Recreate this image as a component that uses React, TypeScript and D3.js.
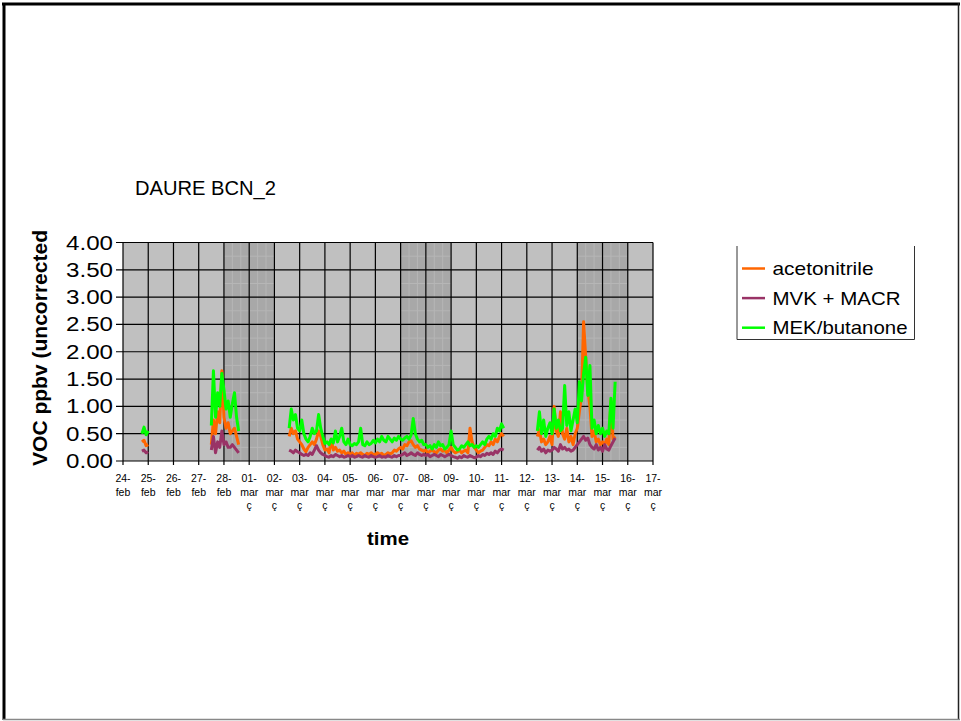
import React from "react";
import * as d3 from "d3";

// ---- data ----
const title = "DAURE BCN_2";
const seriesNames = ["acetonitrile", "MVK + MACR", "MEK/butanone"];
const seriesColors = ["#FF6600", "#993366", "#00FF00"];

// measurement blocks, each sampled every 2 hours from its start
const segmentStarts = ["2009-02-24T18:00Z", "2009-02-27T12:00Z", "2009-03-02T14:00Z", "2009-03-12T10:00Z"];
const stepHours = 2;

const acetonitrile = [
    [0.35, 0.38, 0.28, 0.3],
    [0.3, 0.75, 0.5, 0.9, 0.7, 1.65, 0.8, 0.6, 0.7, 0.5, 0.55, 0.6, 0.45, 0.3],
    [
        0.45, 0.6, 0.5, 0.55, 0.4,
        0.35, 0.3, 0.22, 0.17, 0.25, 0.3, 0.35, 0.3, 0.4, 0.55, 0.45, 0.3,
        0.2, 0.22, 0.15, 0.4, 0.2, 0.25, 0.18, 0.2, 0.15, 0.18, 0.12, 0.15,
        0.12, 0.15, 0.1, 0.14, 0.12, 0.15, 0.12, 0.1, 0.14, 0.12, 0.15, 0.12,
        0.12, 0.15, 0.12, 0.14, 0.1, 0.12, 0.15, 0.13, 0.15, 0.2, 0.18, 0.22,
        0.25, 0.22, 0.3, 0.28, 0.35, 0.37, 0.3, 0.25, 0.28, 0.22, 0.2, 0.18,
        0.2, 0.15, 0.18, 0.2, 0.17, 0.15, 0.2, 0.22, 0.18, 0.2, 0.15, 0.2,
        0.25, 0.18, 0.15, 0.17, 0.2, 0.15, 0.18, 0.2, 0.15, 0.6, 0.35, 0.25,
        0.2, 0.15, 0.18, 0.2, 0.25, 0.3, 0.28, 0.35, 0.3, 0.4, 0.35, 0.45,
        0.5, 0.45,
    ],
    [
        0.45, 0.57, 0.35, 0.4, 0.3, 0.35, 0.45, 0.3, 1.0, 0.55, 0.45, 0.9,
        0.5, 0.4, 0.6, 0.35, 0.45, 0.3, 0.5, 0.6, 0.9, 1.2, 2.55, 1.9,
        1.3, 1.0, 0.45, 0.55, 0.35, 0.4, 0.3, 0.35, 0.3, 0.4, 0.3, 1.1,
        0.4, 0.45,
    ],
];

const mvkMacr = [
    [0.18, 0.2, 0.15, 0.17],
    [0.2, 0.45, 0.15, 0.35, 0.25, 0.55, 0.3, 0.35, 0.25, 0.25, 0.3, 0.25, 0.2, 0.15],
    [
        0.2, 0.18, 0.15, 0.2, 0.17,
        0.15, 0.12, 0.1, 0.12, 0.1, 0.15, 0.12, 0.2, 0.28, 0.2, 0.15, 0.12,
        0.1, 0.08, 0.07, 0.1, 0.08, 0.12, 0.1, 0.08, 0.1, 0.07, 0.08, 0.1,
        0.08, 0.1, 0.07, 0.08, 0.1, 0.08, 0.07, 0.1, 0.08, 0.07, 0.1, 0.08,
        0.07, 0.08, 0.1, 0.07, 0.08, 0.07, 0.1, 0.08, 0.07, 0.1, 0.08, 0.1,
        0.1, 0.12, 0.15, 0.1, 0.12, 0.15, 0.12, 0.1, 0.15, 0.12, 0.1, 0.12,
        0.1, 0.12, 0.08, 0.1, 0.12, 0.1, 0.08, 0.12, 0.1, 0.08, 0.1, 0.12,
        0.1, 0.08, 0.07, 0.05, 0.08, 0.06, 0.1, 0.08, 0.07, 0.1, 0.08, 0.06,
        0.07, 0.1, 0.08, 0.12, 0.1, 0.14, 0.12, 0.15, 0.12, 0.18, 0.15, 0.2,
        0.22, 0.2,
    ],
    [
        0.2, 0.25, 0.18, 0.22, 0.15, 0.2, 0.18, 0.2, 0.25, 0.22, 0.18, 0.3,
        0.22, 0.25, 0.2, 0.22, 0.18, 0.2, 0.25, 0.3, 0.35, 0.4, 0.45, 0.38,
        0.42, 0.3, 0.25, 0.22, 0.3, 0.2, 0.25, 0.18, 0.3, 0.22, 0.2, 0.28,
        0.35, 0.42,
    ],
];

const mekButanone = [
    [0.5, 0.62, 0.48, 0.55],
    [0.65, 1.65, 0.8, 1.25, 1.0, 1.6, 1.3, 0.95, 1.1, 0.8, 1.05, 1.25, 0.8, 0.55],
    [
        0.6, 0.95, 0.75, 0.85, 0.6,
        0.55, 0.75, 0.5, 0.4, 0.35, 0.45, 0.6, 0.5, 0.55, 0.85, 0.6, 0.45,
        0.32, 0.35, 0.3, 0.4, 0.33, 0.55, 0.35, 0.45, 0.6, 0.35, 0.3, 0.4,
        0.3, 0.28, 0.32, 0.3, 0.35, 0.6, 0.3, 0.28, 0.35, 0.3, 0.32, 0.38,
        0.33, 0.4, 0.35, 0.45, 0.38, 0.35, 0.45, 0.4, 0.35, 0.42, 0.38, 0.45,
        0.4, 0.38, 0.42, 0.45, 0.4, 0.48, 0.78, 0.5, 0.4, 0.35, 0.38, 0.3,
        0.3, 0.25, 0.28, 0.22, 0.3, 0.25, 0.35, 0.28, 0.3, 0.22, 0.25, 0.3,
        0.55, 0.3, 0.25, 0.2, 0.22, 0.28, 0.25, 0.3, 0.35, 0.28, 0.3, 0.25,
        0.28, 0.25, 0.3, 0.35, 0.3, 0.4, 0.45, 0.4, 0.5, 0.45, 0.6, 0.55,
        0.68, 0.6,
    ],
    [
        0.55, 0.9, 0.5, 0.75, 0.45, 0.6, 0.7, 0.5, 0.95, 0.6, 0.75, 0.55,
        0.6, 1.38, 0.65, 0.9, 0.55, 0.75, 0.95, 0.7, 1.45, 1.1, 1.6, 1.9,
        1.2, 1.75, 0.6, 0.75, 0.5, 0.65, 0.5, 0.6, 0.45, 0.55, 0.5, 1.15,
        0.6, 1.45,
    ],
];

const allSeries = [acetonitrile, mvkMacr, mekButanone];

// darker bands (weekends)
const weekends = [
    ["2009-02-28", "2009-03-02"],
    ["2009-03-07", "2009-03-09"],
    ["2009-03-14", "2009-03-16"],
];
const xDomain = ["2009-02-24", "2009-03-17"];
const yTicks = [0, 0.5, 1, 1.5, 2, 2.5, 3, 3.5, 4];
const monthNames = ["jan", "feb", "mar"];
const yTitle = "VOC ppbv (uncorrected";
const xTitle = "time";

const FONT = "Arial, 'Liberation Sans', sans-serif";

const App = () => {
    const left = 123, right = 653, top = 242.5, bottom = 461;

    const x = d3.scaleUtc()
        .domain(xDomain.map((d) => new Date(d + "T00:00Z")))
        .range([left, right]);
    const y = d3.scaleLinear().domain([0, 4]).range([bottom, top]);

    const days = d3.utcDay.range(x.domain()[0], d3.utcDay.offset(x.domain()[1], 1));
    const dayFmt = d3.utcFormat("%d-");
    const fmt = d3.format(".2f");

    const line = d3.line<[Date, number]>()
        .x((d) => x(d[0]))
        .y((d) => y(d[1]));

    const toPoints = (vals: number[], seg: number): [Date, number][] => {
        const t0 = new Date(segmentStarts[seg]);
        return vals.map((v, i) => [d3.utcHour.offset(t0, i * stepHours), v]);
    };

    return (
        <svg width={961} height={721} style={{ position: "absolute", left: 0, top: 0, background: "#fff" }}>
            {/* outer frame */}
            <line x1={2} x2={960} y1={4} y2={4} stroke="#000" strokeWidth={3} />
            <line x1={4} x2={4} y1={3} y2={720} stroke="#000" strokeWidth={3} />
            <line x1={958.5} x2={958.5} y1={3} y2={720} stroke="#222" strokeWidth={1.5} />
            <line x1={3} x2={960} y1={719.5} y2={719.5} stroke="#888" strokeWidth={1.5} />

            <text x={135} y={195} fontFamily={FONT} fontSize={21} textLength={141} lengthAdjust="spacingAndGlyphs">{title}</text>

            {/* plot area */}
            <rect x={left} y={top} width={right - left} height={bottom - top} fill="#c0c0c0" />
            {weekends.map(([a, b], i) => {
                const s = new Date(a + "T00:00Z"), e = new Date(b + "T00:00Z");
                const subX = d3.utcHour.every(8)!.range(d3.utcHour.offset(s, 1), e);
                return (
                    <g key={i}>
                        <rect x={x(s)} y={top} width={x(e) - x(s)} height={bottom - top} fill="#a8a8a8" />
                        {subX.map((t, j) => (
                            <line key={j} x1={x(t)} x2={x(t)} y1={top} y2={bottom} stroke="#b6b6b6" strokeWidth={1} />
                        ))}
                        {d3.range(0.25, 4, 0.5).map((v, j) => (
                            <line key={"h" + j} x1={x(s)} x2={x(e)} y1={y(v)} y2={y(v)} stroke="#b6b6b6" strokeWidth={1} />
                        ))}
                    </g>
                );
            })}
            {/* grid */}
            {yTicks.map((v) => (
                <line key={v} x1={left - 7} x2={right} y1={y(v)} y2={y(v)} stroke="#000" strokeWidth={1.2} />
            ))}
            {days.map((d, i) => (
                <line key={i} x1={x(d)} x2={x(d)} y1={top} y2={bottom + 4} stroke="#000" strokeWidth={1.2} />
            ))}

            {/* series */}
            {allSeries.map((segs, si) => (
                <g key={si}>
                    {segs.map((vals, k) => (
                        <path key={k} d={line(toPoints(vals, k)) || ""} fill="none"
                            stroke={seriesColors[si]} strokeWidth={3} strokeLinejoin="round" />
                    ))}
                </g>
            ))}

            {/* y axis labels */}
            {yTicks.map((v) => (
                <text key={v} x={113} y={y(v) + 7} textAnchor="end" fontFamily={FONT} fontSize={19.5}
                    textLength={47} lengthAdjust="spacingAndGlyphs">{fmt(v)}</text>
            ))}
            <text transform={`translate(47, 348) rotate(-90)`} textAnchor="middle" fontFamily={FONT}
                fontSize={20} fontWeight="bold" textLength={236} lengthAdjust="spacingAndGlyphs">{yTitle}</text>

            {/* x axis labels */}
            {days.map((d, i) => (
                <g key={i} fontFamily={FONT} fontSize={10.5} textAnchor="middle">
                    <text x={x(d)} y={482}>{dayFmt(d)}</text>
                    <text x={x(d)} y={496}>{monthNames[d.getUTCMonth()]}</text>
                    {d.getUTCMonth() === 2 && <text x={x(d)} y={509}>ç</text>}
                </g>
            ))}
            <text x={388} y={545} textAnchor="middle" fontFamily={FONT} fontSize={19} fontWeight="bold"
                textLength={42} lengthAdjust="spacingAndGlyphs">{xTitle}</text>

            {/* legend */}
            <path d="M737,246 V339.5 H914.5 V246" fill="none" stroke="#333" strokeWidth={1} />
            {seriesNames.map((n, i) => (
                <g key={n}>
                    <line x1={742} x2={765} y1={268.5 + i * 29.6} y2={268.5 + i * 29.6} stroke={seriesColors[i]} strokeWidth={2.5} />
                    <text x={772.5} y={275 + i * 29.6} fontFamily={FONT} fontSize={18.5}
                        textLength={[101, 128, 135][i]} lengthAdjust="spacingAndGlyphs">{n}</text>
                </g>
            ))}
        </svg>
    );
};

export default App;
